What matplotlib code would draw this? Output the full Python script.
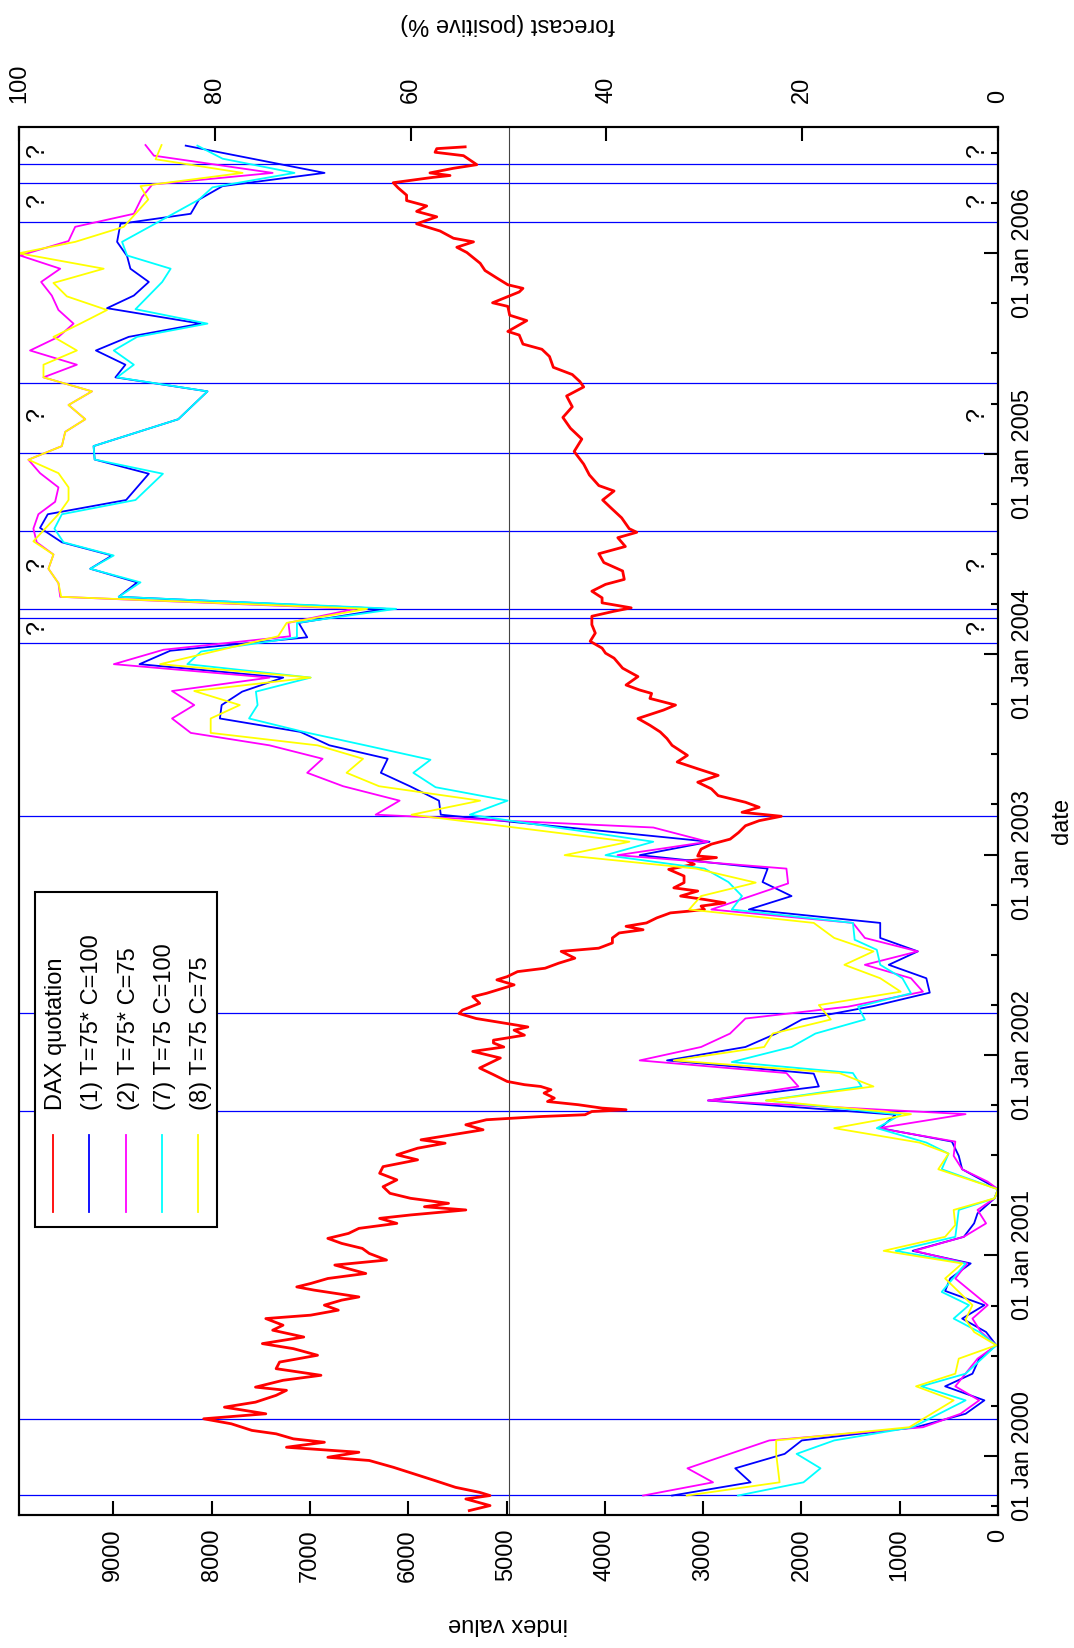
import matplotlib
matplotlib.use('Agg')
import matplotlib.pyplot as plt
from matplotlib.patches import Rectangle

plt.rcParams['font.family'] = ['Liberation Sans', 'DejaVu Sans']
plt.rcParams['font.size'] = 17

# DAX quotation (decimal year, index value)
dax_year = [1999.727, 1999.752, 1999.785, 1999.802, 1999.818, 1999.843, 1999.877, 1999.910, 1999.943, 1999.977,
            1999.993, 2000.018, 2000.043, 2000.068, 2000.085, 2000.110, 2000.127, 2000.160, 2000.185, 2000.210,
            2000.243, 2000.268, 2000.302, 2000.327, 2000.343, 2000.377, 2000.402, 2000.435, 2000.468, 2000.502,
            2000.535, 2000.560, 2000.593, 2000.627, 2000.652, 2000.685, 2000.702, 2000.727, 2000.752, 2000.777,
            2000.793, 2000.827, 2000.843, 2000.860, 2000.885, 2000.910, 2000.952, 2000.977, 2001.010, 2001.035,
            2001.060, 2001.085, 2001.110, 2001.135, 2001.160, 2001.185, 2001.202, 2001.227, 2001.243, 2001.260,
            2001.285, 2001.310, 2001.343, 2001.377, 2001.410, 2001.443, 2001.477, 2001.502, 2001.535, 2001.560,
            2001.577, 2001.602, 2001.627, 2001.652, 2001.677, 2001.693, 2001.702, 2001.718, 2001.727, 2001.735,
            2001.752, 2001.768, 2001.785, 2001.810, 2001.827, 2001.843, 2001.852, 2001.868, 2001.902, 2001.935,
            2001.985, 2002.018, 2002.040, 2002.060, 2002.074, 2002.099, 2002.124, 2002.140, 2002.157, 2002.182,
            2002.207, 2002.224, 2002.258, 2002.291, 2002.308, 2002.350, 2002.375, 2002.391, 2002.416, 2002.433,
            2002.458, 2002.483, 2002.517, 2002.533, 2002.559, 2002.584, 2002.609, 2002.625, 2002.642, 2002.659,
            2002.684, 2002.709, 2002.717, 2002.726, 2002.743, 2002.759, 2002.776, 2002.793, 2002.818, 2002.834,
            2002.860, 2002.893, 2002.926, 2002.952, 2002.968, 2002.985, 2002.993, 2003.027, 2003.052, 2003.077,
            2003.110, 2003.144, 2003.169, 2003.191, 2003.211, 2003.236, 2003.261, 2003.294, 2003.328, 2003.361,
            2003.395, 2003.428, 2003.462, 2003.495, 2003.545, 2003.579, 2003.612, 2003.645, 2003.679, 2003.721,
            2003.746, 2003.779, 2003.804, 2003.821, 2003.846, 2003.888, 2003.930, 2003.980, 2004.005, 2004.030,
            2004.064, 2004.105, 2004.147, 2004.189, 2004.214, 2004.231, 2004.256, 2004.281, 2004.314, 2004.348,
            2004.373, 2004.415, 2004.457, 2004.501, 2004.537, 2004.581, 2004.608, 2004.626, 2004.680, 2004.733,
            2004.769, 2004.814, 2004.841, 2004.894, 2004.948, 2005.011, 2005.073, 2005.127, 2005.181, 2005.234,
            2005.288, 2005.333, 2005.360, 2005.395, 2005.431, 2005.485, 2005.521, 2005.547, 2005.592, 2005.610,
            2005.664, 2005.691, 2005.735, 2005.753, 2005.807, 2005.825, 2005.843, 2005.878, 2005.914, 2005.950,
            2006.004, 2006.030, 2006.057, 2006.075, 2006.111, 2006.147, 2006.182, 2006.209, 2006.236, 2006.263,
            2006.290, 2006.326, 2006.352, 2006.379, 2006.388, 2006.401, 2006.424, 2006.442, 2006.487, 2006.504,
            2006.522, 2006.531]
dax_value = [5379, 5168, 5414, 5168, 5274, 5519, 5730, 5940, 6151, 6397,
             6818, 6502, 7239, 6853, 7169, 7344, 7590, 7800, 8081, 7449,
             7870, 7554, 7344, 7239, 7554, 7274, 6888, 7344, 7309, 6923,
             7169, 7484, 7063, 7379, 7274, 7449, 6993, 6712, 6853, 6677,
             6502, 6958, 7134, 6993, 6818, 6432, 6747, 6221, 6397, 6467,
             6677, 6818, 6607, 6502, 6116, 6291, 5976, 5414, 5835, 5590,
             5976, 6186, 6256, 6116, 6291, 6256, 5905, 6116, 5905, 5625,
             5870, 5554, 5239, 5414, 5204, 4652, 4201, 4132, 3784, 4028,
             4271, 4583, 4514, 4618, 4548, 4652, 4818, 4993, 5133, 5274,
             5063, 5344, 5028, 5133, 5133, 4818, 4923, 4783, 4993, 5308,
             5483, 5448, 5273, 5343, 5203, 4923, 5098, 4993, 4888, 4608,
             4470, 4305, 4444, 4062, 3923, 3923, 3854, 3611, 3784, 3576,
             3472, 3333, 3160, 2986, 3021, 2778, 2986, 3229, 3055, 3298,
             3194, 3194, 3350, 3090, 3160, 2864, 3055, 3021, 2916, 2725,
             2639, 2569, 2430, 2205, 2604, 2430, 2569, 2847, 2916, 3055,
             2847, 3055, 3264, 3160, 3316, 3368, 3437, 3541, 3663, 3403,
             3281, 3541, 3524, 3646, 3784, 3663, 3819, 3906, 3993, 4028,
             4149, 4097, 4132, 4132, 3906, 3732, 4028, 4028, 4132, 3993,
             3802, 3819, 4010, 4061, 3791, 3868, 3675, 3752, 3829, 3945,
             4022, 3906, 4061, 4157, 4215, 4312, 4234, 4350, 4427, 4331,
             4389, 4215, 4254, 4331, 4524, 4563, 4640, 4833, 4871, 4987,
             4794, 4968, 4987, 5142, 4871, 4833, 4987, 5103, 5219, 5268,
             5404, 5506, 5336, 5540, 5676, 5915, 5710, 5915, 5812, 6017,
             6017, 6102, 6153, 5745, 5575, 5779, 5540, 5302, 5438, 5727,
             5710, 5421]

# (1) T=75* C=100
fc1_year = [1999.802, 1999.868, 1999.938, 2000.010, 2000.077, 2000.143, 2000.210, 2000.277, 2000.347, 2000.410,
            2000.485, 2000.552, 2000.618, 2000.685, 2000.752, 2000.823, 2000.885, 2000.960, 2001.023, 2001.093,
            2001.160, 2001.210, 2001.285, 2001.330, 2001.360, 2001.430, 2001.497, 2001.568, 2001.635, 2001.702,
            2001.773, 2001.843, 2001.907, 2001.973, 2002.040, 2002.107, 2002.177, 2002.244, 2002.311, 2002.383,
            2002.450, 2002.517, 2002.584, 2002.659, 2002.726, 2002.793, 2002.863, 2002.930, 2002.997, 2003.064,
            2003.199, 2003.269, 2003.341, 2003.408, 2003.478, 2003.545, 2003.612, 2003.679, 2003.746, 2003.813,
            2003.883, 2003.950, 2004.017, 2004.084, 2004.156, 2004.226, 2004.286, 2004.358, 2004.426, 2004.492,
            2004.558, 2004.630, 2004.698, 2004.769, 2004.900, 2004.971, 2005.038, 2005.172, 2005.311, 2005.381,
            2005.444, 2005.515, 2005.583, 2005.649, 2005.726, 2005.789, 2005.857, 2005.923, 2005.986, 2006.057,
            2006.147, 2006.197, 2006.268, 2006.335, 2006.401, 2006.537]
fc1_pos = [33.29, 25.27, 26.84, 21.79, 20.04, 8.37, 3.31, 1.39, 5.40, 2.61,
           1.92, 0.17, 1.22, 3.66, 1.39, 5.40, 4.88, 2.79, 8.72, 3.49,
           2.44, 2.09, 0.35, 0.0, 1.05, 3.66, 4.01, 4.71, 12.03, 10.46,
           29.63, 18.30, 18.82, 33.81, 25.80, 22.66, 20.04, 12.72, 6.97, 7.32,
           11.16, 8.19, 12.03, 12.03, 25.45, 21.09, 24.05, 23.53, 36.60, 29.46,
           56.92, 57.10, 60.07, 63.04, 62.34, 68.29, 71.26, 79.48, 79.30, 77.20,
           73.01, 87.69, 84.55, 70.56, 71.43, 62.52, 89.81, 87.93, 92.72, 90.50,
           95.62, 97.85, 97.06, 89.06, 86.74, 92.27, 92.38, 83.73, 80.75, 90.15,
           89.13, 92.14, 88.79, 81.44, 91.01, 88.27, 86.74, 88.62, 88.96, 89.98,
           89.64, 82.46, 81.61, 79.21, 68.79, 82.97]

# (2) T=75* C=75
fc2_year = [1999.802, 1999.868, 1999.938, 2000.077, 2000.143, 2000.210, 2000.277, 2000.347, 2000.485, 2000.552,
            2000.618, 2000.685, 2000.752, 2000.885, 2000.960, 2001.023, 2001.093, 2001.160, 2001.227, 2001.285,
            2001.330, 2001.368, 2001.430, 2001.497, 2001.568, 2001.635, 2001.705, 2001.773, 2001.843, 2001.910,
            2001.973, 2002.040, 2002.107, 2002.182, 2002.241, 2002.316, 2002.383, 2002.450, 2002.517, 2002.584,
            2002.659, 2002.726, 2002.856, 2002.930, 2002.997, 2003.064, 2003.135, 2003.199, 2003.269, 2003.341,
            2003.408, 2003.478, 2003.545, 2003.607, 2003.679, 2003.746, 2003.816, 2003.883, 2003.950, 2004.022,
            2004.089, 2004.156, 2004.226, 2004.286, 2004.354, 2004.426, 2004.497, 2004.558, 2004.626, 2004.698,
            2004.760, 2004.832, 2004.903, 2004.970, 2005.038, 2005.109, 2005.172, 2005.243, 2005.311, 2005.381,
            2005.444, 2005.515, 2005.583, 2005.649, 2005.717, 2005.789, 2005.857, 2005.923, 2005.989, 2006.061,
            2006.132, 2006.197, 2006.281, 2006.343, 2006.401, 2006.487, 2006.540]
fc2_pos = [36.25, 29.11, 31.72, 23.36, 7.67, 3.83, 1.92, 4.36, 2.09, 0.17,
           1.74, 2.61, 1.05, 4.36, 3.14, 8.54, 3.49, 1.22, 2.09, 0.35,
           0.0, 1.05, 3.66, 4.53, 4.36, 12.20, 3.31, 29.63, 20.39, 21.61,
           36.60, 30.33, 27.37, 25.80, 15.34, 7.67, 8.89, 13.60, 8.19, 13.60,
           14.82, 29.28, 21.44, 21.61, 38.87, 29.63, 35.21, 63.57, 61.12, 66.89,
           70.56, 68.99, 74.41, 82.45, 84.37, 82.10, 84.37, 74.41, 90.31, 85.24,
           72.31, 72.48, 65.66, 95.79, 95.97, 96.99, 96.48, 98.19, 98.53, 98.02,
           96.31, 95.97, 97.85, 99.04, 95.62, 95.28, 93.23, 94.94, 92.55, 97.50,
           94.09, 98.87, 95.97, 94.43, 95.97, 96.65, 97.74, 95.79, 99.90, 94.94,
           94.26, 88.27, 87.42, 86.39, 74.09, 86.22, 87.08]

# (7) T=75 C=100
fc7_year = [1999.802, 1999.868, 1999.938, 2000.010, 2000.077, 2000.143, 2000.277, 2000.347, 2000.410, 2000.552,
            2000.618, 2000.685, 2000.752, 2000.818, 2000.960, 2001.023, 2001.093, 2001.227, 2001.285, 2001.330,
            2001.430, 2001.508, 2001.563, 2001.635, 2001.702, 2001.773, 2001.843, 2001.910, 2001.965, 2002.040,
            2002.107, 2002.177, 2002.241, 2002.308, 2002.383, 2002.450, 2002.525, 2002.575, 2002.659, 2002.726,
            2002.793, 2002.863, 2002.930, 2002.997, 2003.064, 2003.199, 2003.269, 2003.336, 2003.408, 2003.473,
            2003.545, 2003.612, 2003.679, 2003.746, 2003.813, 2003.883, 2003.950, 2004.013, 2004.084, 2004.156,
            2004.226, 2004.286, 2004.358, 2004.426, 2004.492, 2004.558, 2004.626, 2004.698, 2004.769, 2004.900,
            2004.971, 2005.038, 2005.172, 2005.311, 2005.381, 2005.444, 2005.515, 2005.583, 2005.649, 2005.721,
            2005.857, 2005.923, 2005.989, 2006.057, 2006.268, 2006.329, 2006.401, 2006.472, 2006.537]
fc7_pos = [26.56, 19.87, 18.13, 20.57, 16.73, 8.72, 3.31, 7.84, 3.31, 0.17,
           1.92, 4.53, 2.96, 5.75, 3.31, 10.46, 4.36, 4.01, 0.35, 0.0,
           5.75, 5.05, 7.32, 12.38, 9.94, 23.70, 13.94, 14.82, 27.19, 21.09,
           18.65, 13.60, 14.29, 8.89, 9.76, 12.03, 12.38, 14.64, 14.82, 27.19,
           26.15, 27.54, 29.98, 40.09, 35.21, 53.95, 50.10, 57.45, 59.72, 57.97,
           64.62, 70.91, 76.50, 75.63, 75.80, 70.21, 82.80, 81.40, 71.61, 71.61,
           61.47, 89.81, 87.59, 92.72, 90.33, 95.45, 96.38, 95.62, 88.10, 85.30,
           92.27, 92.38, 83.73, 80.75, 89.98, 88.27, 90.32, 87.93, 80.75, 88.10,
           85.37, 84.51, 88.96, 89.47, 81.61, 80.24, 71.86, 79.21, 81.78]

# (8) T=75 C=75
fc8_year = [1999.802, 1999.868, 2000.010, 2000.077, 2000.143, 2000.277, 2000.347, 2000.410, 2000.485, 2000.552,
            2000.618, 2000.680, 2000.752, 2000.885, 2000.960, 2001.023, 2001.093, 2001.152, 2001.227, 2001.285,
            2001.330, 2001.430, 2001.508, 2001.563, 2001.635, 2001.705, 2001.773, 2001.843, 2001.910, 2001.973,
            2002.040, 2002.107, 2002.177, 2002.249, 2002.316, 2002.383, 2002.450, 2002.517, 2002.584, 2002.659,
            2002.726, 2002.793, 2002.860, 2002.930, 2002.997, 2003.064, 2003.199, 2003.269, 2003.341, 2003.408,
            2003.478, 2003.545, 2003.607, 2003.679, 2003.746, 2003.816, 2003.883, 2003.950, 2004.089, 2004.156,
            2004.226, 2004.286, 2004.354, 2004.426, 2004.497, 2004.563, 2004.698, 2004.769, 2004.832, 2004.903,
            2004.970, 2005.038, 2005.109, 2005.172, 2005.243, 2005.311, 2005.381, 2005.444, 2005.515, 2005.583,
            2005.649, 2005.717, 2005.785, 2005.852, 2005.923, 2006.000, 2006.057, 2006.132, 2006.268, 2006.335,
            2006.401, 2006.469, 2006.540]
fc8_pos = [31.79, 22.31, 22.66, 22.66, 9.06, 4.53, 8.37, 4.36, 4.01, 0.17,
           2.44, 3.31, 2.61, 5.40, 3.66, 11.68, 5.40, 4.36, 4.53, 0.35,
           0.0, 6.10, 5.05, 8.02, 16.73, 8.89, 23.70, 12.72, 16.21, 33.12,
           23.88, 23.01, 17.08, 18.30, 9.94, 12.03, 15.69, 12.72, 16.73, 18.82,
           31.55, 30.33, 24.75, 30.85, 44.27, 37.65, 59.90, 52.90, 63.22, 66.54,
           64.86, 69.51, 80.42, 80.42, 77.45, 82.10, 70.21, 85.59, 73.53, 72.66,
           64.44, 95.69, 95.97, 96.99, 96.48, 98.53, 95.97, 94.94, 94.94, 95.97,
           99.04, 95.62, 95.28, 93.23, 94.94, 92.55, 97.50, 97.50, 94.09, 96.48,
           93.74, 91.01, 95.11, 96.48, 91.35, 100.0, 94.26, 89.30, 86.80, 87.59,
           77.16, 86.05, 85.44]

# dates marked with a blue line, and dates marked with "?"
marker_years = [1999.805, 2000.185, 2001.723, 2002.211, 2003.191, 2004.058, 2004.182, 2004.225,
                2004.614, 2005.004, 2005.354, 2006.154, 2006.349, 2006.444]
question_years = [2004.134, 2004.447, 2005.199, 2006.263, 2006.513]

date_ticks = [2000, 2001, 2002, 2003, 2004, 2005, 2006]
date_labels = ['01 Jan 2000', '01 Jan 2001', '01 Jan 2002', '01 Jan 2003',
               '01 Jan 2004', '01 Jan 2005', '01 Jan 2006']
quarter_ticks = [y + q for y in range(1999, 2007) for q in (0.25, 0.5, 0.75)]
index_ticks = [0, 1000, 2000, 3000, 4000, 5000, 6000, 7000, 8000, 9000]
forecast_ticks = [0, 20, 40, 60, 80, 100]

series = [('DAX quotation', 'red'),
          ('(1) T=75* C=100', 'blue'),
          ('(2) T=75* C=75', 'magenta'),
          ('(7) T=75 C=100', 'cyan'),
          ('(8) T=75 C=75', 'yellow')]

W, H = 1074, 1648
index_lim = 9960
year_lim = (1999.705, 2006.630)

fig = plt.figure(figsize=(W / 100, H / 100), dpi=100)
ax = fig.add_axes([19 / W, 1 - 1515 / H, 979 / W, 1388 / H])

for y in marker_years:
    ax.axhline(y, color='blue', lw=0.9, zorder=1)
ax.axvline(0.5 * index_lim, color='#444444', lw=0.8, zorder=1)
ax.plot(dax_value, dax_year, color='red', lw=2.0, zorder=3)

ax.set_xlim(index_lim, 0)
ax.set_ylim(*year_lim)
ax.set_xticks(index_ticks)
ax.set_xticklabels([str(v) for v in index_ticks])
ax.set_yticks(date_ticks)
ax.set_yticklabels(date_labels)
ax.set_yticks(quarter_ticks, minor=True)
ax.tick_params(axis='x', direction='in', length=10, width=1.5, pad=10, labelrotation=90)
ax.tick_params(axis='y', which='major', direction='in', length=10, width=1.5, pad=10,
               left=False, right=True, labelleft=False, labelright=True)
ax.tick_params(axis='y', which='minor', direction='in', length=5, width=1.5, left=False, right=True)
for lbl in ax.yaxis.get_majorticklabels():
    lbl.set_rotation(90)
    lbl.set_va('center')
    lbl.set_ha('left')

ax2 = ax.twiny()
ax2.plot(fc1_pos, fc1_year, color='blue', lw=1.3)
ax2.plot(fc2_pos, fc2_year, color='magenta', lw=1.3)
ax2.plot(fc7_pos, fc7_year, color='cyan', lw=1.3)
ax2.plot(fc8_pos, fc8_year, color='yellow', lw=1.3)
for y in question_years:
    ax2.text(98.2, y, '?', rotation=90, ha='center', va='center', fontsize=18)
    ax2.text(2.2, y, '?', rotation=90, ha='center', va='center', fontsize=18)
ax2.set_xlim(100, 0)
ax2.set_ylim(*year_lim)
ax2.set_xticks(forecast_ticks)
ax2.set_xticklabels([str(v) for v in forecast_ticks])
ax2.tick_params(axis='x', direction='in', length=10, width=1.5, pad=17, labelrotation=90)

for a in (ax, ax2):
    for s in a.spines.values():
        s.set_linewidth(1.5)

# legend drawn by hand, since its text is turned like the rest of the chart
def ax_xy(px, py):
    return (px - 19) / 979, (1515 - py) / 1388

x0, y0 = ax_xy(35, 1227)
x1, y1 = ax_xy(217, 892)
ax2.add_patch(Rectangle((x0, y0), x1 - x0, y1 - y0, transform=ax2.transAxes,
                        facecolor='white', edgecolor='black', lw=1.5, zorder=5))
for i, (name, col) in enumerate(series):
    lx, ly_top = ax_xy(53 + 36.3 * i, 1135)
    _, ly_bot = ax_xy(0, 1212)
    ax2.plot([lx, lx], [ly_bot, ly_top], color=col, lw=1.3, transform=ax2.transAxes, zorder=6)
    tx, ty = ax_xy(56 + 36.3 * i, 1110)
    ax2.text(tx, ty, name, rotation=90, ha='center', va='bottom',
             transform=ax2.transAxes, zorder=6)

fig.text(508 / W, 1 - 24 / H, 'forecast (positive %)', rotation=180, ha='center', va='center')
fig.text(508 / W, 1 - 1624 / H, 'index value', rotation=180, ha='center', va='center')
fig.text(1062 / W, 1 - 821 / H, 'date', rotation=90, ha='center', va='center')

fig.savefig('out.png', dpi=100)
